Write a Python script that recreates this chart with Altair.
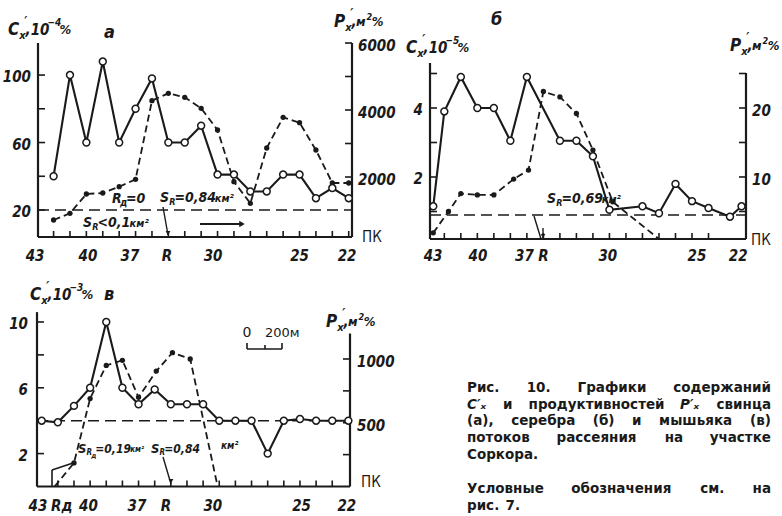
import altair as alt
import pandas as pd

INK = "#1a1a1a"
NUMF = "Liberation Sans Narrow, DejaVu Sans Condensed, DejaVu Sans, sans-serif"
CAPF = "DejaVu Sans, Liberation Sans, sans-serif"

# ---------------- data: panel а (свинец) ----------------
A_C_X = list(range(19))
A_C = [40, 100, 60, 108, 60, 80, 98, 60, 60, 70, 41, 41, 31, 31, 41, 41, 27, 33, 27]
A_P_X = list(range(19))
A_P = [717, 916, 1493, 1522, 1710, 1931, 4278, 4498, 4379, 4051, 3403, 1860,
       1215, 2866, 3782, 3621, 2806, 1821, 1821]
A_P_DOT = [1] * 19
A_BG = 20
A_XT_POS = [-1.13, 2.1, 4.66, 6.92, 9.73, 15.0, 17.9]
A_XT_LAB = ["43", "40", "37", "R", "30", "25", "22"]
A_BT = list(range(19))
A_LT = [20, 40, 60, 80, 100]
A_LL = [100, 60, 20]
A_RT = [2000, 3000, 4000, 5000, 6000]
A_RL = [6000, 4000, 2000]

# ---------------- data: panel б (серебро) ----------------
B_C_X = [-0.67, 0, 1, 2, 3, 4, 5, 7, 8, 9, 10, 12, 13, 14, 15, 16, 17.3, 18]
B_C = [1.15, 3.9, 4.9, 4.0, 4.0, 3.05, 4.9, 3.05, 3.05, 2.6, 1.05, 1.15, 0.95,
       1.8, 1.3, 1.1, 0.85, 1.15]
B_P_X = [-0.67, 0.25, 1, 2, 3, 4.2, 5.1, 6, 7, 8, 9, 10.2, 13]
B_P = [1.9, 5.0, 7.6, 7.4, 7.4, 9.7, 11.0, 22.4, 21.6, 19.2, 13.9, 6.4, 1.0]
B_P_DOT = [1] * 12 + [0]
B_BG = 0.9
B_XT_POS = [-0.68, 2.04, 4.85, 6.0, 9.9, 15.3, 17.8]
B_XT_LAB = ["43", "40", "37", "R", "30", "25", "22"]
B_BT = list(range(17))
B_LT = [1, 2, 3, 4, 5]
B_LL = [4, 2]
B_RT = [5, 10, 15, 20, 25]
B_RL = [20, 10]

# ---------------- data: panel в (мышьяк) ----------------
C_C_X = list(range(20))
C_C = [4, 3.9, 4.9, 6, 10, 6, 5, 5.9, 5, 5, 5, 4, 4, 4, 2, 4, 4.1, 4, 4, 4]
C_P_X = [0.8, 2, 3, 4, 5, 6, 7.1, 8.1, 9.2, 10.9]
C_P = [0, 185, 690, 950, 990, 700, 905, 1050, 1000, 0]
C_P_DOT = [0, 1, 1, 1, 1, 1, 1, 1, 1, 0]
C_BG = 4
C_XT_POS = [-0.23, 1.24, 2.9, 5.9, 7.7, 10.6, 16.1, 18.9]
C_XT_LAB = ["43", "Rд", "40", "37", "R", "30", "25", "22"]
C_BT = list(range(1, 19))
C_LT = [2, 4, 6, 8, 10]
C_LL = [10, 6, 2]
C_RT = [250, 500, 750, 1000]
C_RL = [1000, 500]

# ---------------- caption ----------------
CAP_LINES = [
    [("Рис.", 0), ("10.", 0), ("Графики", 0), ("содержаний", 0)],
    [("C′ₓ", 1), ("и", 0), ("продуктивностей", 0), ("P′ₓ", 1), ("свинца", 0)],
    [("(а),", 0), ("серебра", 0), ("(б)", 0), ("и", 0), ("мышьяка", 0), ("(в)", 0)],
    [("потоков", 0), ("рассеяния", 0), ("на", 0), ("участке", 0)],
    [("Соркора.", 0)],
    [("Условные", 0), ("обозначения", 0), ("см.", 0), ("на", 0)],
    [("рис.", 0), ("7.", 0)],
]
CAP_JUST = [1, 1, 1, 1, 0, 1, 0]
CAP_Y = [388, 405, 421, 438, 455, 489, 506]


def S(dom, rng):
    return alt.Scale(domain=dom, range=rng, nice=False, zero=False)


def one():
    return pd.DataFrame({"k": [0]})


def txt(x, y, s, size=14, style="italic", weight="bold", align="left", font=NUMF):
    return alt.Chart(pd.DataFrame({"t": [s]})).mark_text(
        align=align, baseline="middle", font=font, fontSize=size,
        fontStyle=style, fontWeight=weight, color=INK,
    ).encode(x=alt.value(x), y=alt.value(y), text="t:N")


def adv(s, size):
    w = 0
    for ch in s:
        if ch in ",.":
            w += 0.3
        elif ch in "=<−-":
            w += 0.62
        elif ch in "²":
            w += 0.36
        elif ch in "мш%":
            w += 0.8
        elif ch in "CPS":
            w += 0.66
        elif ch == " ":
            w += 0.25
        else:
            w += 0.58
    return w * size


def rich(x, y, parts):
    """parts: (text, size, dy[, advance?, dx])"""
    out = []
    for p in parts:
        text, size, dy = p[0], p[1], p[2]
        advance = p[3] if len(p) > 3 else 1
        dx = p[4] if len(p) > 4 else 0
        out.append(txt(x + dx, y + dy, text, size))
        if advance:
            x += adv(text, size) + dx
    return out


def title_c(x, y, exp):
    return rich(x, y, [("C", 17, 0), ("′", 13, -9, 0, 5), ("x", 11, 6), (",10", 15, 0),
                       ("−" + exp, 10, -7), ("%", 13, 0)])


def title_p(x, y):
    return rich(x, y, [("P", 17, 0), ("′", 13, -9, 0, 5), ("x", 11, 6), (",", 15, 0), ("м", 13, 0),
                       ("2", 9, -5), ("%", 13, 0)])


def rule_px(x1, y1, x2, y2, w=1.5):
    return alt.Chart(one()).mark_rule(color=INK, strokeWidth=w).encode(
        x=alt.value(x1), x2=alt.value(x2), y=alt.value(y1), y2=alt.value(y2))


def tri(x, y, shape, size=28):
    return alt.Chart(one()).mark_point(
        shape=shape, filled=True, color=INK, size=size, opacity=1
    ).encode(x=alt.value(x), y=alt.value(y))


def panel(P):
    xs, yl, yr = P["xs"], P["yl"], P["yr"]

    def X(f):
        return alt.X(f, type="quantitative", scale=xs, axis=None)

    def YL(f):
        return alt.Y(f, type="quantitative", scale=yl, axis=None)

    def YR(f):
        return alt.Y(f, type="quantitative", scale=yr, axis=None)

    x0, x1 = P["xd"]
    yl0, yl1 = P["yld"]
    yr0, yr1 = P["yrd"]
    out = []
    out.append(alt.Chart(pd.DataFrame({"x": [x0], "x2": [x1], "y": [P["bg"]]})).mark_rule(
        color=INK, strokeWidth=1.6, strokeDash=[11, 6]).encode(x=X("x"), x2="x2", y=YL("y")))
    out.append(alt.Chart(pd.DataFrame({"x": [x0], "x2": [x1], "y": [yl0]})).mark_rule(
        color=INK, strokeWidth=2.2).encode(x=X("x"), x2="x2", y=YL("y")))
    out.append(alt.Chart(pd.DataFrame({"x": [x0], "y": [yl0], "y2": [yl1]})).mark_rule(
        color=INK, strokeWidth=2.2).encode(x=X("x"), y=YL("y"), y2="y2"))
    out.append(alt.Chart(pd.DataFrame({"x": [x1], "y": [yr0], "y2": [yr1]})).mark_rule(
        color=INK, strokeWidth=2.2).encode(x=X("x"), y=YR("y"), y2="y2"))
    out.append(alt.Chart(pd.DataFrame({"x": P["bt"], "y": [yl0] * len(P["bt"])})).mark_tick(
        orient="vertical", size=6, thickness=1.6, yOffset=-3, color=INK, opacity=1
    ).encode(x=X("x"), y=YL("y")))
    out.append(alt.Chart(pd.DataFrame({"y": P["lt"], "x": [x0] * len(P["lt"])})).mark_tick(
        orient="horizontal", size=7, thickness=1.6, xOffset=3.5, color=INK, opacity=1
    ).encode(x=X("x"), y=YL("y")))
    out.append(alt.Chart(pd.DataFrame({"y": P["rt"], "x": [x1] * len(P["rt"])})).mark_tick(
        orient="horizontal", size=7, thickness=1.6, xOffset=-3.5, color=INK, opacity=1
    ).encode(x=X("x"), y=YR("y")))
    dfp = pd.DataFrame({"x": P["p_x"], "v": P["p_v"], "d": P["p_dot"]})
    out.append(alt.Chart(dfp).mark_line(color=INK, strokeWidth=1.8, strokeDash=[7, 4]).encode(
        x=X("x"), y=YR("v")))
    out.append(alt.Chart(dfp[dfp["d"] == 1]).mark_point(
        shape="circle", filled=True, color=INK, size=28, opacity=1).encode(x=X("x"), y=YR("v")))
    dfc = pd.DataFrame({"x": P["c_x"], "v": P["c_v"]})
    out.append(alt.Chart(dfc).mark_line(color=INK, strokeWidth=2.1).encode(x=X("x"), y=YL("v")))
    out.append(alt.Chart(dfc).mark_point(
        shape="circle", filled=True, fill="white", stroke=INK, strokeWidth=1.5, size=48, opacity=1
    ).encode(x=X("x"), y=YL("v")))
    out.append(alt.Chart(pd.DataFrame({"x": P["xt_pos"], "t": P["xt_lab"]})).mark_text(
        align="center", baseline="middle", font=NUMF, fontSize=15, fontStyle="italic",
        fontWeight="bold", color=INK).encode(x=X("x"), y=alt.value(P["xt_y"]), text="t:N"))
    out.append(alt.Chart(pd.DataFrame({"v": P["ll"], "t": [str(v) for v in P["ll"]]})).mark_text(
        align="right", baseline="middle", font=NUMF, fontSize=15, fontStyle="italic",
        fontWeight="bold", color=INK, dy=2).encode(x=alt.value(P["ll_x"]), y=YL("v"), text="t:N"))
    out.append(alt.Chart(pd.DataFrame({"v": P["rl"], "t": [str(v) for v in P["rl"]]})).mark_text(
        align="left", baseline="middle", font=NUMF, fontSize=15, fontStyle="italic",
        fontWeight="bold", color=INK, dy=3).encode(x=alt.value(P["rl_x"]), y=YR("v"), text="t:N"))
    return out


PA = dict(xs=S([-0.95, 18.2], [38, 352]), yl=S([4, 119], [237, 43]), yr=S([209, 6000], [237, 43]),
          xd=[-0.95, 18.2], yld=[4, 119], yrd=[209, 6000],
          c_x=A_C_X, c_v=A_C, p_x=A_P_X, p_v=A_P, p_dot=A_P_DOT, bg=A_BG,
          xt_pos=A_XT_POS, xt_lab=A_XT_LAB, xt_y=256, bt=A_BT, lt=A_LT, rt=A_RT,
          ll=A_LL, rl=A_RL, ll_x=31, rl_x=358)
PB = dict(xs=S([-0.867, 18.27], [430, 746]), yl=S([0.203, 5.304], [239, 63]),
          yr=S([1.01, 26.52], [239, 63]),
          xd=[-0.867, 18.27], yld=[0.203, 5.304], yrd=[1.01, 25.07],
          c_x=B_C_X, c_v=B_C, p_x=B_P_X, p_v=B_P, p_dot=B_P_DOT, bg=B_BG,
          xt_pos=B_XT_POS, xt_lab=B_XT_LAB, xt_y=256, bt=B_BT, lt=B_LT, rt=B_RT,
          ll=B_LL, rl=B_RL, ll_x=423, rl_x=752)
PC = dict(xs=S([-0.291, 19.1], [37, 350]), yl=S([0, 10.6], [486.5, 312.1]),
          yr=S([0, 1200], [486.5, 333.5]),
          xd=[-0.291, 19.1], yld=[0, 10.6], yrd=[0, 1200],
          c_x=C_C_X, c_v=C_C, p_x=C_P_X, p_v=C_P, p_dot=C_P_DOT, bg=C_BG,
          xt_pos=C_XT_POS, xt_lab=C_XT_LAB, xt_y=506, bt=C_BT, lt=C_LT, rt=C_RT,
          ll=C_LL, rl=C_RL, ll_x=28, rl_x=357)

layers = []
for P in (PA, PB, PC):
    layers += panel(P)

# ---------- panel а annotations ----------
layers += title_c(8, 30, "4")
layers.append(txt(104, 33, "а", 18))
layers += title_p(334, 22)
layers.append(txt(362, 237, "ПК", 15, style="normal", weight="normal"))
layers += rich(112, 199, [("R", 14, 0), ("д", 10, 4), ("=0", 14, 0)])
layers += rich(160, 198, [("S", 14, 0), ("R", 9, 4), ("=0,84", 14, 0), ("км²", 11, 1, 1, 3)])
layers += rich(83, 223, [("S", 14, 0), ("R", 9, 4), ("<0,1", 14, 0), ("км²", 11, 1, 1, 3)])
layers.append(rule_px(163, 207, 168, 235, 1.4))
layers.append(tri(168, 233, "triangle-down", 24))
layers.append(rule_px(200, 224, 240, 224, 2.2))
layers.append(tri(242, 224, "triangle-right", 40))

# ---------- panel б annotations ----------
layers += title_c(406, 48, "5")
layers.append(txt(491, 20, "б", 18))
layers += title_p(730, 46)
layers.append(txt(751, 240, "ПК", 15, style="normal", weight="normal"))
layers += rich(547, 199, [("S", 14, 0), ("R", 9, 4), ("=0,69", 14, 0), ("км²", 11, 1, 1, 3)])
layers.append(rule_px(534, 216, 541, 239, 1.4))
layers.append(rule_px(543, 228, 543, 238, 1.4))
layers.append(tri(543, 236, "triangle-down", 20))

# ---------- panel в annotations ----------
layers += title_c(30, 295, "3")
layers.append(txt(104, 295, "в", 18))
layers += title_p(326, 322)
layers.append(txt(361, 482, "ПК", 15, style="normal", weight="normal"))
layers += rich(78, 449, [("S", 13, 0), ("R", 8, 4), ("д", 7, 7), ("=0,19", 12, 0), ("км²", 8, 1, 1, 3)])
layers += rich(151, 449, [("S", 13, 0), ("R", 8, 4), ("=0,84", 12, 0)])
layers.append(txt(221, 446, "км²", 10))
layers.append(rule_px(163, 457, 171, 484, 1.4))
layers.append(tri(171, 481, "triangle-down", 24))
layers.append(rule_px(52, 486, 52, 470, 1.6))
layers.append(rule_px(52, 470, 73, 463, 1.6))
layers.append(txt(247, 333, "0", 14, style="normal", weight="normal", align="center", font=CAPF))
layers.append(txt(265, 333, "200м", 13, style="normal", weight="normal", font=CAPF))
layers.append(rule_px(247, 349, 282, 349, 1.6))
layers.append(rule_px(247, 343, 247, 349, 1.6))
layers.append(rule_px(265, 345, 265, 349, 1.6))
layers.append(rule_px(282, 343, 282, 349, 1.6))

# ---------- caption (justified word by word, DejaVu Sans Bold advance widths) ----------
DJV = {"а": 0.675, "б": 0.687, "в": 0.652, "г": 0.531, "д": 0.745, "е": 0.678, "ж": 1.0,
       "з": 0.586, "и": 0.712, "й": 0.712, "к": 0.669, "л": 0.706, "м": 0.822, "н": 0.712,
       "о": 0.687, "п": 0.712, "р": 0.716, "с": 0.593, "т": 0.557, "у": 0.652, "ф": 0.98,
       "х": 0.645, "ц": 0.726, "ч": 0.685, "ш": 1.002, "щ": 1.009, "ы": 0.93, "ь": 0.642,
       "я": 0.681, "Р": 0.733, "Г": 0.637, "С": 0.734, "У": 0.70, "C": 0.734, "P": 0.733,
       ".": 0.38, ",": 0.38, "(": 0.457, ")": 0.457, "′": 0.3, "ₓ": 0.45}


def cwid(s, size):
    return sum(DJV.get(ch, 0.696) for ch in s) * size


CAP_SIZE = 13.5
X0, X1 = 467, 771
for words, just, y in zip(CAP_LINES, CAP_JUST, CAP_Y):
    widths = [cwid(w, CAP_SIZE) for w, _ in words]
    n = len(words)
    gap = (X1 - X0 - sum(widths)) / (n - 1) if (just and n > 1) else CAP_SIZE * 0.45
    x = X0
    for i, ((w, it), wd) in enumerate(zip(words, widths)):
        style = "italic" if it else "normal"
        if just and n > 1 and i == n - 1:
            layers.append(txt(X1, y, w, CAP_SIZE, style=style, weight="bold", align="right", font=CAPF))
        else:
            layers.append(txt(x, y, w, CAP_SIZE, style=style, weight="bold", align="left", font=CAPF))
        x += wd + gap

chart = alt.layer(*layers).resolve_scale(x="independent", y="independent").properties(
    width=782, height=516, padding=0,
    autosize=alt.AutoSizeParams(type="none"), background="white",
).configure_view(strokeWidth=0)

chart.save("out.html", embed_options={"renderer": "svg", "actions": False})
